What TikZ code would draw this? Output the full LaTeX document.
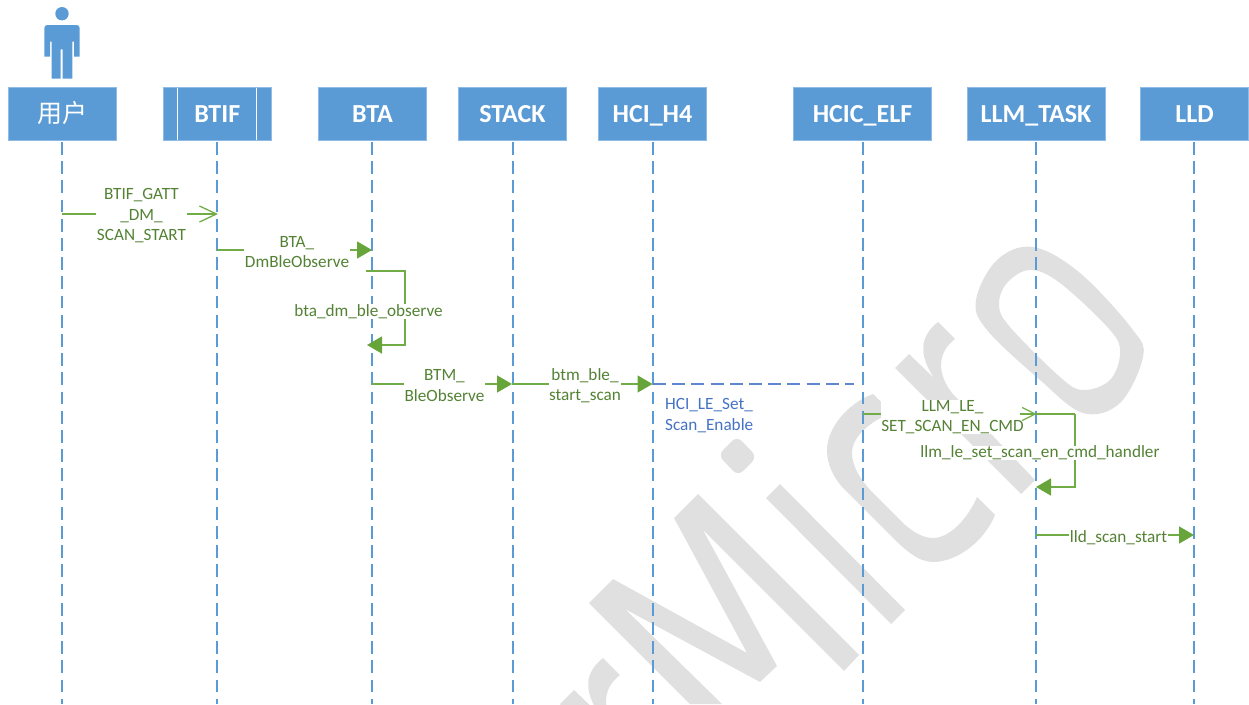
\documentclass[tikz,border=0pt]{standalone}
\usepackage{fontspec}
\setmainfont{Carlito}
\newfontfamily\cjkfont{Noto Sans CJK SC}
\usetikzlibrary{arrows.meta}
\definecolor{boxblue}{HTML}{5B9BD5}
\definecolor{boxedge}{HTML}{8FBCE6}
\definecolor{msggreen}{HTML}{70AD47}
\definecolor{headgreen}{HTML}{67A53B}
\definecolor{txtgreen}{HTML}{548235}
\definecolor{hciblue}{HTML}{4472C4}
\definecolor{wmgrey}{HTML}{E0E0E0}
\tikzset{
  actorbox/.style={fill=boxblue,draw=boxedge,line width=0.7pt,minimum height=52.5pt,inner sep=0pt,text=white,text height=20pt,text depth=4pt,font=\fontsize{26}{30}\selectfont\bfseries},
  lifeline/.style={draw=boxblue,line width=1.5pt,dash pattern=on 12.7pt off 6.5pt},
  msgline/.style={draw=msggreen,line width=1.5pt},
  solidhead/.style={msgline,-{Triangle[length=15pt,width=17pt,fill=headgreen,color=headgreen]}},
  openhead/.style={msgline,-{Straight Barb[length=17pt,width=16pt,line width=1.3pt]}},
  openheadsmall/.style={msgline,-{Straight Barb[length=13pt,width=13pt,line width=1.2pt]}},
  msglabel/.style={fill=white,text=txtgreen,align=center,inner xsep=0.5pt,inner ysep=0pt,font=\fontsize{17.2}{20.5}\selectfont},
  hcilabel/.style={text=hciblue,align=left,anchor=north west,inner sep=0pt,font=\fontsize{17.2}{20.5}\selectfont},
  hciline/.style={draw=hciblue!85!white,line width=2pt,dash pattern=on 13pt off 6.2pt},
  watermark/.style={fill=wmgrey,draw=none},
}
\begin{document}
\begin{tikzpicture}[x=1pt,y=-1pt]
\useasboundingbox (0,0) rectangle (1249,704);
\clip (0,0) rectangle (1249,704);
% watermark
\path[watermark] (895,368) -- (909,354) -- (934,378) .. controls (919,355) and (919,337) .. (938,322) -- (955,339) .. controls (938,352) and (936,372) .. (952,393) -- (1035,480) -- (1021,494) -- cycle;
\path[watermark,shift={(-335,336)}] (895,368) -- (909,354) -- (934,378) .. controls (919,355) and (919,337) .. (938,322) -- (955,339) .. controls (938,352) and (936,372) .. (952,393) -- (1035,480) -- (1021,494) -- cycle;
\path[watermark] (589,603) -- (613,579) -- (747,653) -- (674,518) -- (698,494) -- (859,655) -- (844,671) -- (703,530) -- (777,666) -- (760,682) -- (625,609) -- (722,704) -- (690,704) -- cycle;
\path[watermark] (780,484) -- (905,610) -- (891,624) -- (766,498) -- cycle;
\path[watermark,rounded corners=7pt] (737,436) -- (757,457) -- (738,476) -- (718,455) -- cycle;
\path[watermark] (873,394) -- (892,413) .. controls (872,420) and (852,436) .. (852,453) .. controls (852,466) and (860,480) .. (875,495) -- (903,523) .. controls (915,534) and (925,538) .. (933,538) .. controls (950,538) and (968,518) .. (977,497) -- (995,515) .. controls (985,540) and (958,562) .. (933,562) .. controls (918,562) and (905,550) .. (888,533) -- (845,490) .. controls (833,478) and (827,464) .. (827,450) .. controls (827,428) and (848,403) .. (873,394) -- cycle;
\path[watermark,even odd rule]
  plot[smooth cycle,tension=0.6] coordinates {(1033,247) (997,260) (976,300) (987,330) (1040,380) (1083,413) (1120,403) (1143,357) (1133,330) (1080,273)}
  plot[smooth cycle,tension=0.6] coordinates {(1030,270) (1007,283) (999,305) (1010,327) (1060,377) (1083,390) (1110,380) (1120,353) (1110,330) (1060,283)};
% actor icon
\fill[boxblue] (62,13.7) circle (6.7);
\fill[boxblue,even odd rule] (44.3,56.7) -- (44.3,28) .. controls (44.3,26) and (46,25) .. (47.5,25) -- (76.5,25) .. controls (78,25) and (79.7,26) .. (79.7,28) -- (79.7,56.7) -- (74,56.7) -- (74,41.7) -- (72.3,41.7) -- (72.3,78.7) -- (62.7,78.7) -- (62.7,49.3) -- (60.7,49.3) -- (60.7,78.7) -- (51.7,78.7) -- (51.7,41.7) -- (50,41.7) -- (50,56.7) -- cycle;
% head boxes
\node[actorbox,minimum width=108pt,font=\fontsize{25}{28}\cjkfont] (user) at (62,114) {用户};
\node[actorbox,minimum width=108pt] (btif) at (217.3,114) {BTIF};
\draw[white,line width=1pt] (177.7,88) -- (177.7,140) (256.7,88) -- (256.7,140);
\node[actorbox,minimum width=108pt] (bta) at (372.5,114) {BTA};
\node[actorbox,minimum width=108pt] (stack) at (512.5,114) {STACK};
\node[actorbox,minimum width=108pt] (hcih) at (652.5,114) {HCI\_H4};
\node[actorbox,minimum width=138pt] (hcic) at (862.5,114) {HCIC\_ELF};
\node[actorbox,minimum width=138pt] (llm) at (1036,114) {LLM\_TASK};
\node[actorbox,minimum width=108pt] (lld) at (1194.5,114) {LLD};
% lifeline ends
\coordinate (userT) at (62,142);    \coordinate (userB) at (62,704);
\coordinate (btifT) at (217,142);   \coordinate (btifB) at (217,704);
\coordinate (btaT) at (372,142);    \coordinate (btaB) at (372,704);
\coordinate (stackT) at (513,142);  \coordinate (stackB) at (513,704);
\coordinate (hcihT) at (653,142);   \coordinate (hcihB) at (653,704);
\coordinate (hcicT) at (863,142);   \coordinate (hcicB) at (863,704);
\coordinate (llmT) at (1036,142);   \coordinate (llmB) at (1036,704);
\coordinate (lldT) at (1194,142);   \coordinate (lldB) at (1194,704);
\foreach \n in {user,btif,bta,stack,hcih,hcic,llm,lld}{\draw[lifeline] (\n T) -- (\n B);}
% message end points
\coordinate (a1) at (62,214);     \coordinate (b1) at (218,214);
\coordinate (a2) at (217,250);    \coordinate (b2) at (372,250);
\coordinate (a3) at (366,271);    \coordinate (c3) at (405,271); \coordinate (d3) at (405,345); \coordinate (b3) at (367,345);
\coordinate (a4) at (372,384);    \coordinate (b4) at (512,384);
\coordinate (a5) at (512,384);    \coordinate (b5) at (652.5,384);
\coordinate (a6) at (653,384);    \coordinate (b6) at (854,384);
\coordinate (a7) at (863,414);    \coordinate (e7) at (1020,414); \coordinate (b7) at (1036.5,414);
\coordinate (a8) at (1036,414);   \coordinate (c8) at (1075,414); \coordinate (d8) at (1075,487); \coordinate (b8) at (1036,487);
\coordinate (a9) at (1036,535);   \coordinate (b9) at (1194,535);
% connectors
\draw[openhead] (a1) -- (b1);
\draw[solidhead] (a2) -- (b2);
\draw[solidhead] (a3) -- (c3) -- (d3) -- (b3);
\draw[solidhead] (a4) -- (b4);
\draw[solidhead] (a5) -- (b5);
\draw[hciline] (a6) -- (b6);
\draw[msgline] (a7) -- (e7);
\draw[msgline] (a8) -- (c8);
\draw[solidhead] (c8) -- (d8) -- (b8);
\draw[solidhead] (a9) -- (b9);
% labels
\node[msglabel] (l1) at (141.5,216) {BTIF\_GATT\\\_DM\_\\SCAN\_START};
\node[msglabel] (l2) at (297,252) {BTA\_\\DmBleObserve};
\node[msglabel] (l3) at (368.5,311.5) {bta\_dm\_ble\_observe};
\node[msglabel] (l4) at (444.5,385.5) {BTM\_\\BleObserve};
\node[msglabel] (l5) at (585,385.5) {btm\_ble\_\\start\_scan};
\node[hcilabel] (l6) at (665,398.5) {HCI\_LE\_Set\_\\Scan\_Enable};
\node[msglabel] (l7) at (952.5,417) {LLM\_LE\_\\SET\_SCAN\_EN\_CMD};
\node[msglabel] (l8) at (1040,453) {llm\_le\_set\_scan\_en\_cmd\_handler};
\node[msglabel] (l9) at (1118.5,538) {lld\_scan\_start};
% the open head of this message lies over its label
\draw[openheadsmall] (e7) -- (b7);
\end{tikzpicture}
\end{document}
